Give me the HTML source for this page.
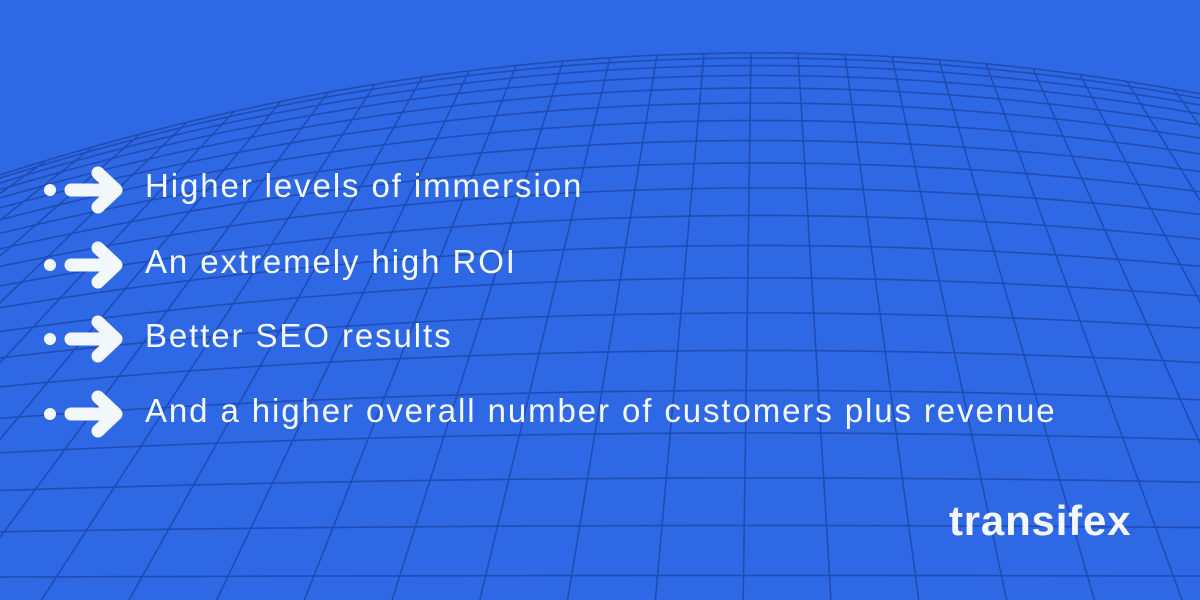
<!DOCTYPE html>
<html><head><meta charset="utf-8"><style>
html,body{margin:0;padding:0;}
body{width:1200px;height:600px;overflow:hidden;background:#2f68e5;position:relative;font-family:"Liberation Sans",sans-serif;}
svg{position:absolute;left:0;top:0;}
.item{position:absolute;left:145px;color:#f3f8ff;font-size:33px;line-height:36px;white-space:nowrap;letter-spacing:1.9px;}
.logo{position:absolute;left:949px;top:497px;color:#f3f8ff;font-size:42px;font-weight:bold;letter-spacing:0.8px;}
</style></head><body>
<svg id="g" width="1200" height="600" viewBox="0 0 1200 600"></svg>
<div class="item" style="top:168px">Higher levels of immersion</div>
<div class="item" style="top:244px">An extremely high ROI</div>
<div class="item" style="top:318px">Better SEO results</div>
<div class="item" style="top:393px">And a higher overall number of customers plus revenue</div>
<div class="logo">transifex</div>
<script>
(function(){
var s=document.getElementById('g');var h='';
var c0=0.000211;
function top(x){return 53+(x-760)*(x-760)*c0;}
var y=53,k=0;
while(y<640){
  var c=c0*Math.pow(Math.max(0,1-(y-53)/560),1.6);
  var d='';
  for(var x=-20;x<=1220;x+=20){
    var yy=y+(x-760)*(x-760)*c; var t=top(x); if(yy<t)yy=t;
    d+=(x==-20?'M':'L')+x+' '+yy.toFixed(1);
  }
  h+='<path d="'+d+'" fill="none" stroke="#1f4db5" stroke-width="1.6"/>';
  y+=5+2.5*k;k++;
}
for(var x0=-800;x0<=1400;x0+=47){
  var bx=760+(x0-760)*1.9;
  var tx=Math.max(-50,Math.min(1250,x0));
  var ty=top(tx);
  h+='<line x1="'+tx+'" y1="'+ty+'" x2="'+bx+'" y2="620" stroke="#1f4db5" stroke-width="1.6"/>';
}
[190,265,339,414].forEach(function(cy){
  h+='<circle cx="50" cy="'+cy+'" r="6" fill="#f3f8ff"/>';
  h+='<line x1="71" y1="'+cy+'" x2="112" y2="'+cy+'" stroke="#f3f8ff" stroke-width="13" stroke-linecap="round"/>';
  h+='<polyline points="98,'+(cy-17)+' 116,'+cy+' 98,'+(cy+17)+'" fill="none" stroke="#f3f8ff" stroke-width="13" stroke-linecap="round" stroke-linejoin="round"/>';
});
s.innerHTML=h;
})();
</script>
</body></html>
